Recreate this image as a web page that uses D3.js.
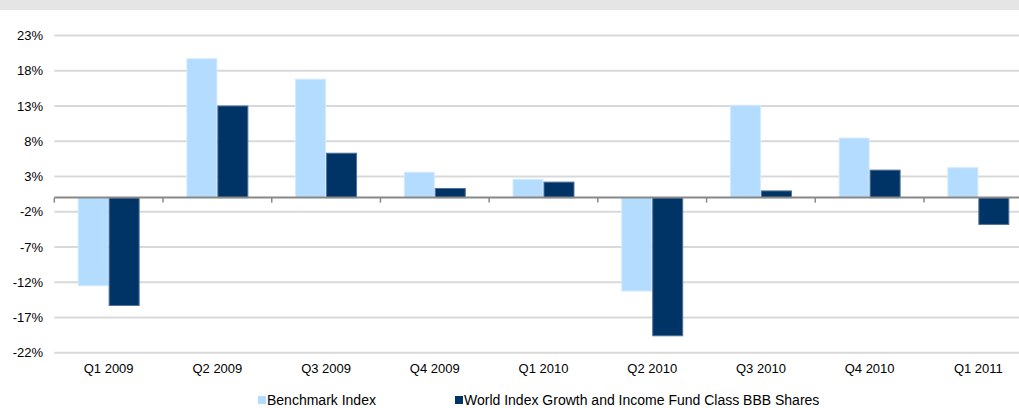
<!DOCTYPE html>
<html>
<head>
<meta charset="utf-8">
<script src="https://cdn.jsdelivr.net/npm/d3@7"></script>
<style>
html,body{margin:0;padding:0;background:#fff;overflow:hidden;}
svg{display:block;font-family:"Liberation Sans",Arial,sans-serif;}
</style>
</head>
<body>
<svg id="chart" width="1019" height="408"></svg>
<script>
const categories = ["Q1 2009","Q2 2009","Q3 2009","Q4 2009","Q1 2010","Q2 2010","Q3 2010","Q4 2010","Q1 2011"];
const seriesNames = ["Benchmark Index","World Index Growth and Income Fund Class BBB Shares"];
const benchmark = [-12.5, 19.7, 16.8, 3.6, 2.6, -13.25, 13.1, 8.45, 4.25];
const fund = [-15.3, 13.0, 6.3, 1.3, 2.2, -19.6, 0.95, 3.9, -3.8];
const yTicks = [23, 18, 13, 8, 3, -2, -7, -12, -17, -22];
const colors = ["#b3dcff", "#003366"];
const strokes = ["#d2eaff", "#4f7199"];

const svg = d3.select("#chart");
const W = 1019, H = 408;
const plotLeft = 54.3, plotRight = 1032.7;

// top band
svg.append("rect").attr("x",0).attr("y",0).attr("width",W).attr("height",10).attr("fill","#e5e5e5");

const y = d3.scaleLinear().domain([-22, 23]).range([352.7, 35.5]);
const x0 = d3.scaleBand().domain(categories).range([plotLeft, plotRight]).paddingInner(0.43).paddingOuter(0.215);
const x1 = d3.scaleBand().domain(seriesNames).range([0, x0.bandwidth()]);

// gridlines
svg.append("g").selectAll("line").data(yTicks).join("line")
  .attr("x1", plotLeft).attr("x2", W)
  .attr("y1", d => y(d)).attr("y2", d => y(d))
  .attr("stroke", "#d9d9d9").attr("stroke-width", 2);

// y labels
const yAxis = d3.axisLeft(y).tickValues(yTicks).tickSize(0).tickPadding(0).tickFormat(d => d + "%");
const gy = svg.append("g").attr("transform", `translate(43,0)`).call(yAxis);
gy.select(".domain").remove();
gy.selectAll("text").attr("font-size", 13).attr("fill", "#000").attr("font-family", "Liberation Sans, Arial, sans-serif");

// bars
const data = categories.map((c, i) => ({cat: c, vals: [benchmark[i], fund[i]]}));
const groups = svg.append("g").selectAll("g").data(data).join("g")
  .attr("transform", d => `translate(${x0(d.cat)},0)`);
groups.selectAll("rect").data(d => d.vals.map((v, j) => ({v, s: seriesNames[j], j}))).join("rect")
  .attr("x", d => x1(d.s) + 0.5)
  .attr("width", x1.bandwidth() - 1)
  .attr("y", d => Math.min(y(d.v), y(0)))
  .attr("height", d => Math.abs(y(d.v) - y(0)))
  .attr("fill", d => colors[d.j])
  .attr("stroke", d => strokes[d.j]).attr("stroke-width", 1);

// zero axis with category ticks
const step = x0.step();
const boundaries = d3.range(0, categories.length + 1).map(k => plotLeft + k * step);
svg.append("line").attr("x1", plotLeft).attr("x2", W).attr("y1", y(0)).attr("y2", y(0))
  .attr("stroke", "#888").attr("stroke-width", 2);
svg.append("g").selectAll("line").data(boundaries).join("line")
  .attr("x1", d => d).attr("x2", d => d)
  .attr("y1", y(0)).attr("y2", y(0) + 5)
  .attr("stroke", "#888").attr("stroke-width", 1.5);

// x labels
svg.append("g").selectAll("text").data(categories).join("text")
  .attr("x", d => x0(d) + x0.bandwidth() / 2)
  .attr("y", 373)
  .attr("text-anchor", "middle")
  .attr("font-size", 13).attr("fill", "#000")
  .text(d => d);

// legend
const legendItems = [{x: 258, name: seriesNames[0], c: colors[0]}, {x: 455, name: seriesNames[1], c: colors[1]}];
const lg = svg.append("g").selectAll("g").data(legendItems).join("g")
  .attr("transform", d => `translate(${d.x},0)`);
lg.append("rect").attr("x", 0).attr("y", 396).attr("width", 8).attr("height", 8).attr("fill", d => d.c);
lg.append("text").attr("x", 9).attr("y", 404.5).attr("font-size", 14).attr("fill", "#000").text(d => d.name);
</script>
</body>
</html>
